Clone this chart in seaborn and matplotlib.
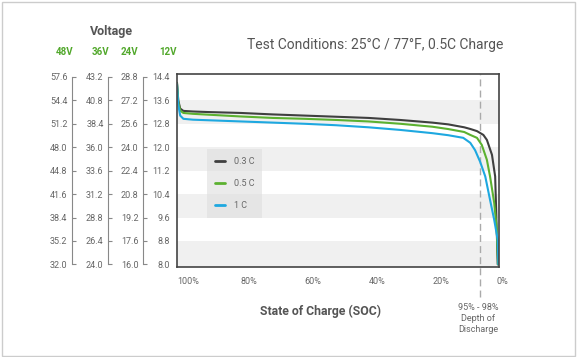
import matplotlib
matplotlib.use('Agg')
import matplotlib.pyplot as plt
from matplotlib.patches import Rectangle
import seaborn as sns
import pandas as pd

# discharge curves (SOC in %, voltage on the 12V scale)
soc_03 = [100, 99.6, 99, 98, 95, 90, 80, 70, 60, 50, 40, 30, 20, 15, 10, 8, 6, 4, 2.9, 1.3, 0.3, -0.5]
v_03 = [14.2, 13.6, 13.32, 13.24, 13.22, 13.2, 13.17, 13.12, 13.08, 13.04, 13.0, 12.93, 12.84, 12.78, 12.68, 12.62, 12.55, 12.42, 12.25, 11.74, 11.0, 8.0]
soc_05 = [100, 99.6, 99, 98, 95, 90, 80, 70, 60, 50, 40, 30, 20, 15, 10, 8.1, 6, 4.5, 2.9, 1.9, 0.6, -0.2, -0.6]
v_05 = [14.18, 13.55, 13.25, 13.17, 13.14, 13.11, 13.05, 13.0, 12.97, 12.93, 12.88, 12.8, 12.7, 12.62, 12.52, 12.42, 12.32, 12.08, 11.57, 11.0, 10.1, 9.2, 8.0]
soc_1c = [100, 99.6, 99, 98, 95, 90, 80, 70, 60, 50, 40, 30, 20, 15, 10.3, 8.1, 6.6, 5, 3.4, 1.9, 0.6, -0.5, -0.7]
v_1c = [14.15, 13.45, 13.08, 12.97, 12.94, 12.92, 12.88, 12.84, 12.8, 12.75, 12.68, 12.59, 12.48, 12.41, 12.32, 12.15, 11.9, 11.5, 11.0, 10.2, 9.52, 8.84, 8.0]

rates = ['0.3 C', '0.5 C', '1 C']
rate_colors = ['#3f3f3f', '#5cb130', '#1ea8e0']

volt_12 = [8.0, 8.8, 9.6, 10.4, 11.2, 12.0, 12.8, 13.6, 14.4]
systems = ['48V', '36V', '24V']
system_factor = [4, 3, 2]
soc_ticks = [100, 80, 60, 40, 20, 0]
soc_labels = ['100%', '80%', '60%', '40%', '20%', '0%']
dod_soc = 5

df = pd.concat([
    pd.DataFrame({'soc': soc_03, 'volt': v_03, 'rate': '0.3 C'}),
    pd.DataFrame({'soc': soc_05, 'volt': v_05, 'rate': '0.5 C'}),
    pd.DataFrame({'soc': soc_1c, 'volt': v_1c, 'rate': '1 C'}),
])

sns.set_style('white')
plt.rcParams['font.family'] = ['Roboto', 'DejaVu Sans']
txt = '#666666'

fig = plt.figure(figsize=(5.78, 3.57), dpi=100)
fig.patches.append(Rectangle((0.003, 0.004), 0.991, 0.99, transform=fig.transFigure,
                             fill=False, edgecolor='#cccccc', lw=1.0))
ax = fig.add_axes([177 / 578, 90 / 357, 322 / 578, 193 / 357])

# alternating bands
ylo, yhi = 7.91, 14.5
for lo in volt_12[0:-1:2]:
    ax.axhspan(ylo if lo == volt_12[0] else lo, lo + 0.8, color='#f0f0f0', lw=0, zorder=0)

sns.lineplot(data=df, x='soc', y='volt', hue='rate', hue_order=rates,
             palette=dict(zip(rates, rate_colors)), estimator=None, sort=False,
             lw=1.5, ax=ax)

ax.set_xlim(100, -0.9)
ax.set_ylim(ylo, yhi)

ax.axvline(dod_soc, ymin=-0.155, ymax=1, clip_on=False, color='#aaaaaa',
           lw=1, ls=(0, (5, 3)), zorder=1)

for s in ax.spines.values():
    s.set_color('#444444')
    s.set_linewidth(1.2)

ax.set_xticks(soc_ticks)
ax.set_xticklabels(soc_labels, ha='left')
ax.tick_params(axis='x', direction='out', length=4, width=1, color='#444444',
               labelsize=6.5, labelcolor=txt, pad=3)
ax.set_yticks(volt_12)
ax.set_yticklabels([f'{v:.1f}' for v in volt_12])
ax.tick_params(axis='y', length=0, labelsize=6.5, labelcolor=txt, pad=5)

locs = [-0.3276, -0.2152, -0.1066]
for name, k, loc in zip(systems, system_factor, locs):
    sec = ax.secondary_yaxis(loc, functions=(lambda v, k=k: v * k, lambda v, k=k: v / k))
    vals = [v * k for v in volt_12]
    sec.set_yticks(vals)
    sec.set_yticklabels([f'{v:.1f}' for v in vals])
    sec.spines['left'].set_bounds(vals[0], vals[-1])
    sec.spines['left'].set_color('#888888')
    sec.spines['left'].set_linewidth(0.8)
    sec.tick_params(direction='in', length=3, width=0.8, color='#888888',
                    labelsize=6.5, labelcolor=txt, pad=3)

handles, labels = ax.get_legend_handles_labels()
leg = ax.legend(handles, labels, loc='upper left', bbox_to_anchor=(0.078, 0.635),
                fontsize=6.5, handlelength=1.1, handletextpad=1.0, labelspacing=1.45,
                borderpad=0.9, frameon=True, fancybox=False, facecolor='#dcdcdc',
                edgecolor='none', framealpha=0.55, labelcolor=txt)
for line in leg.get_lines():
    line.set_linewidth(2)

ax.set_xlabel('State of Charge (SOC)', fontweight='bold', fontsize=8.8, color='#555555')
ax.xaxis.set_label_coords((320 - 177) / 322, -(311 - 267) / 193)
ax.xaxis.label.set_va('center')
ax.set_ylabel('')

fig.text(375 / 578, 1 - 45 / 357, 'Test Conditions: 25°C / 77°F, 0.5C Charge',
         ha='center', va='center', fontsize=10, color='#555555')
fig.text(112 / 578, 1 - 32 / 357, 'Voltage', ha='center', va='center',
         fontweight='bold', fontsize=9, color='#555555')
for name, x in zip(systems + ['12V'], [65, 100.5, 129.5, 167.8]):
    fig.text(x / 578, 1 - 52 / 357, name, ha='center', va='center',
             fontweight='bold', fontsize=7, color='#52a82c')
fig.text(478 / 578, 1 - 303 / 357, '95% - 98%\nDepth of\nDischarge', ha='center',
         va='top', fontsize=6.5, color=txt, linespacing=1.3)

fig.savefig('out.png', dpi=100)
